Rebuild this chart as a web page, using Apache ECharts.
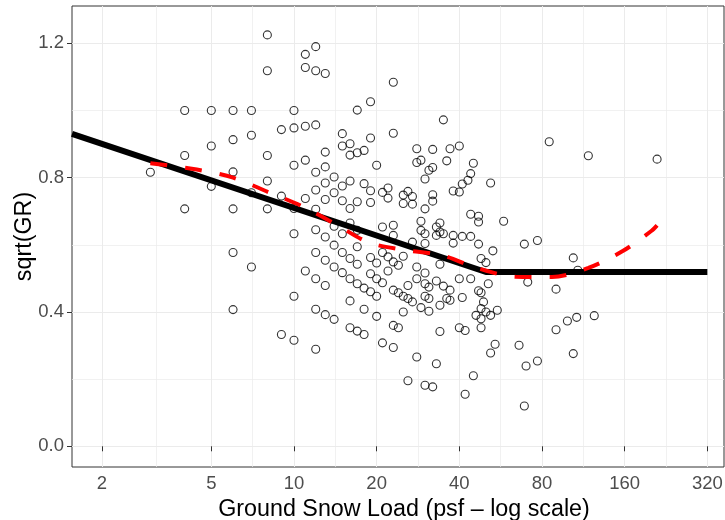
<!DOCTYPE html>
<html><head><meta charset="utf-8">
<script src="https://cdn.jsdelivr.net/npm/echarts@6/dist/echarts.min.js"></script>
<style>html,body{margin:0;padding:0;background:#fff}#c{width:725px;height:520px}</style>
</head><body><div id="c"></div>
<script>
// Observations: ground snow load (psf) and sqrt(GR)
const snowLoad = [
8,8,4,5,6,7,10,9,10,7,6,5,4,8,10,3,6,8,5,7,9,4,6,8,10,10,
6,7,10,6,9,10,
11,12,11,12,13,23,17,19,11,12,35,15,23,19,15,16,13,16,17,18,28,32,37,40,
11,13,20,12,14,28,29,31,32,36,45,44,43,41,30,52,38,40,12,13,14,15,16,18,19,
21,22,22,25,26,27,25,27,32,32,30,11,13,15,17,19,16,12,12,13,14,15,16,17,21,
23,23,29,29,30,34,33,34,35,33,38,41,44,47,47,44,58,
12,12,12,12,11,13,13,13,14,14,14,15,15,16,16,16,16,17,17,17,17,18,18,18,
19,19,19,20,20,20,20,21,21,21,22,22,23,23,23,23,24,24,24,25,25,25,26,26,26,
27,27,28,28,28,29,30,30,30,30,30,31,31,31,32,33,33,34,34,34,35,36,37,37,38,
40,40,41,42,42,44,45,47,47,48,46,48,48,48,49,50,51,52,53,48,50,55,54,52,
85,118,210,69,77,104,71,90,108,66,90,99,107,124,70,77,104,69
];
const sqrtGR = [
1.225,1.118,1.000,1.000,1.000,1.000,1.000,0.943,0.948,0.926,0.913,0.894,0.866,0.866,0.837,0.816,0.817,0.790,0.774,0.755,0.745,0.707,0.707,0.707,0.708,0.633,
0.577,0.534,0.447,0.407,0.333,0.316,
1.167,1.190,1.128,1.118,1.110,1.084,1.001,1.026,0.953,0.957,0.972,0.931,0.932,0.918,0.894,0.901,0.876,0.867,0.874,0.881,0.886,0.884,0.886,0.894,
0.852,0.832,0.837,0.816,0.802,0.845,0.852,0.822,0.830,0.850,0.843,0.812,0.792,0.781,0.796,0.784,0.760,0.757,0.763,0.784,0.755,0.775,0.790,0.782,0.761,
0.756,0.769,0.739,0.748,0.759,0.744,0.723,0.721,0.749,0.730,0.707,0.738,0.735,0.731,0.728,0.726,0.708,0.706,0.645,0.623,0.655,0.633,0.665,0.643,0.653,
0.658,0.628,0.670,0.643,0.633,0.665,0.653,0.638,0.633,0.628,0.628,0.625,0.691,0.685,0.668,0.625,0.670,
0.577,0.499,0.408,0.289,0.522,0.554,0.479,0.392,0.599,0.534,0.378,0.577,0.517,0.559,0.499,0.433,0.353,0.594,0.542,0.484,0.343,0.471,0.408,0.333,
0.562,0.514,0.460,0.546,0.499,0.447,0.387,0.577,0.487,0.308,0.564,0.522,0.549,0.465,0.360,0.294,0.539,0.457,0.353,0.566,0.447,0.400,0.479,0.440,0.195,
0.608,0.430,0.534,0.499,0.266,0.413,0.604,0.516,0.484,0.447,0.182,0.474,0.440,0.402,0.177,0.492,0.246,0.542,0.420,0.342,0.477,0.440,0.465,0.435,0.605,
0.499,0.353,0.443,0.345,0.155,0.499,0.210,0.602,0.463,0.457,0.390,0.410,0.380,0.353,0.430,0.400,0.484,0.390,0.582,0.559,0.547,0.405,0.304,0.278,
0.907,0.865,0.855,0.602,0.613,0.561,0.489,0.468,0.524,0.301,0.347,0.373,0.384,0.389,0.239,0.254,0.276,0.120
];
// Piecewise-linear fit (black)
const fitLoad = [1.555, 50, 320];
const fitGR = [0.930, 0.519, 0.519];
// Smooth fit (red dashed)
const smoothLoad = [3, 4.43, 6, 8.06, 10.7, 14.2, 18.7, 25.4, 34.5, 46.4, 64, 87, 118, 158, 200, 210];
const smoothGR = [0.843, 0.824, 0.800, 0.757, 0.715, 0.661, 0.607, 0.584, 0.569, 0.531, 0.505, 0.504, 0.531, 0.582, 0.641, 0.658];
// Axes
const xMajorTicks = [2, 5, 10, 20, 40, 80, 160, 320];
const xMinorTicks = [3.162, 7.071, 14.14, 28.28, 56.57, 113.1, 226.3];
const yMajorTicks = [0, 0.4, 0.8, 1.2];
const yMinorTicks = [0.2, 0.6, 1.0];
const xLimits = [1.555, 368];
const yLimits = [-0.0616, 1.311];

const L = v => Math.log2(v);
const FONT = 'Liberation Sans, Arial, sans-serif';
const chart = echarts.init(document.getElementById('c'), null, {renderer: 'canvas'});
const xBase = {type: 'value', min: L(xLimits[0]), max: L(xLimits[1])};
const yBase = {type: 'value', min: yLimits[0], max: yLimits[1]};
chart.setOption({
  animation: false,
  textStyle: {fontFamily: FONT},
  grid: {left: 72, right: 1, top: 6, bottom: 53, containLabel: false, outerBoundsMode: 'none',
         show: true, borderColor: '#333333', borderWidth: 1, backgroundColor: '#ffffff'},
  xAxis: [
    Object.assign({}, xBase, {
      axisLine: {show: false},
      axisTick: {show: true, length: 5, lineStyle: {color: '#333333', width: 1}, customValues: xMajorTicks.map(L)},
      axisLabel: {customValues: xMajorTicks.map(L), formatter: v => String(Math.round(Math.pow(2, v))), fontSize: 18.5, color: '#4D4D4D', margin: 7, fontFamily: FONT},
      splitLine: {show: true, lineStyle: {color: '#EBEBEB', width: 1}},
      name: 'Ground Snow Load (psf – log scale)', nameLocation: 'middle', nameGap: 26,
      nameTextStyle: {fontSize: 23.3, color: '#000000', fontFamily: FONT, padding: [0, 0, 0, 12]}
    }),
    Object.assign({}, xBase, {
      position: 'bottom',
      axisLine: {show: false},
      axisTick: {show: false, customValues: xMinorTicks.map(L)},
      axisLabel: {show: false, customValues: xMinorTicks.map(L)},
      splitLine: {show: true, lineStyle: {color: '#EBEBEB', width: 0.7}}
    })
  ],
  yAxis: [
    Object.assign({}, yBase, {
      axisLine: {show: false},
      axisTick: {show: true, length: 5, lineStyle: {color: '#333333', width: 1}, customValues: yMajorTicks},
      axisLabel: {customValues: yMajorTicks, formatter: v => v.toFixed(1), fontSize: 18.5, color: '#4D4D4D', margin: 8, fontFamily: FONT},
      splitLine: {show: true, lineStyle: {color: '#EBEBEB', width: 1}},
      name: 'sqrt(GR)', nameLocation: 'middle', nameGap: 36, nameRotate: 90, nameMoveOverlap: false,
      nameTextStyle: {fontSize: 23.3, color: '#000000', fontFamily: FONT}
    }),
    Object.assign({}, yBase, {
      position: 'left',
      axisLine: {show: false},
      axisTick: {show: false, customValues: yMinorTicks},
      axisLabel: {show: false, customValues: yMinorTicks},
      splitLine: {show: true, lineStyle: {color: '#EBEBEB', width: 0.7}}
    })
  ],
  series: [
    {
      type: 'scatter', xAxisIndex: 0, yAxisIndex: 0, z: 2,
      symbol: 'circle', symbolSize: 8,
      itemStyle: {color: 'rgba(0,0,0,0)', borderColor: '#000000', borderWidth: 1.1},
      data: snowLoad.map((d, i) => [L(d), sqrtGR[i]])
    },
    {
      type: 'line', xAxisIndex: 0, yAxisIndex: 0, z: 3, symbol: 'none', clip: true,
      lineStyle: {color: '#000000', width: 6, cap: 'butt'},
      data: fitLoad.map((d, i) => [L(d), fitGR[i]])
    },
    {
      type: 'line', xAxisIndex: 0, yAxisIndex: 0, z: 4, symbol: 'none', smooth: 0.3, clip: true,
      lineStyle: {color: '#FF0000', width: 4, type: [17, 18], cap: 'butt'},
      data: smoothLoad.map((d, i) => [L(d), smoothGR[i]])
    }
  ]
});
</script>
</body></html>
